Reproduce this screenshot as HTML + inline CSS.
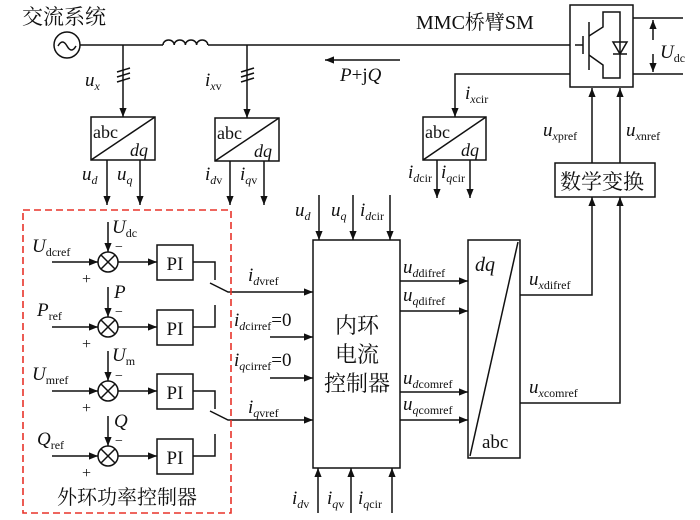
<!DOCTYPE html>
<html><head><meta charset="utf-8"><style>
body{margin:0;background:#fff}
svg{display:block}
text{font-family:"Liberation Serif","Noto Serif CJK SC",serif;fill:#111}
.i{font-style:italic}
.c{font-family:"Liberation Serif","Noto Serif CJK SC","Noto Sans CJK SC",serif}
</style></head><body>
<svg width="700" height="520" viewBox="0 0 700 520" xmlns="http://www.w3.org/2000/svg">
<defs>
<marker id="a" viewBox="0 0 10 10" refX="10" refY="5" markerWidth="9" markerHeight="9" markerUnits="userSpaceOnUse" orient="auto"><path d="M0,1 L10,5 L0,9 z" fill="#111"/></marker>
</defs>
<g stroke="#111" stroke-width="1.5" fill="none">
<!-- AC source -->
<circle cx="67" cy="45" r="13"/>
<path d="M58,46 q4.5,-8 9,0 q4.5,8 9,0"/>
<line x1="80" y1="45" x2="163" y2="45"/>
<path d="M163,45 a5.6,5 0 0 1 11.2,0 a5.6,5 0 0 1 11.2,0 a5.6,5 0 0 1 11.2,0 a5.6,5 0 0 1 11.2,0"/>
<line x1="208" y1="45" x2="570" y2="45"/>
<!-- taps -->
<line x1="123" y1="45" x2="123" y2="117" marker-end="url(#a)"/>
<line x1="117" y1="72" x2="130" y2="68"/><line x1="117" y1="77" x2="130" y2="73"/><line x1="117" y1="82" x2="130" y2="78"/>
<line x1="247" y1="45" x2="247" y2="118" marker-end="url(#a)"/>
<line x1="241" y1="72" x2="254" y2="68"/><line x1="241" y1="77" x2="254" y2="73"/><line x1="241" y1="82" x2="254" y2="78"/>
<!-- abc/dq boxes -->
<rect x="91" y="117" width="64" height="43"/><line x1="91" y1="160" x2="155" y2="117"/>
<rect x="215" y="118" width="64" height="43"/><line x1="215" y1="161" x2="279" y2="118"/>
<rect x="423" y="117" width="63" height="43"/><line x1="423" y1="160" x2="486" y2="117"/>
<line x1="107" y1="160" x2="107" y2="205" marker-end="url(#a)"/>
<line x1="140" y1="160" x2="140" y2="205" marker-end="url(#a)"/>
<line x1="230" y1="161" x2="230" y2="205" marker-end="url(#a)"/>
<line x1="264" y1="161" x2="264" y2="205" marker-end="url(#a)"/>
<line x1="437" y1="160" x2="437" y2="198" marker-end="url(#a)"/>
<line x1="470" y1="160" x2="470" y2="198" marker-end="url(#a)"/>
<!-- PQ arrow -->
<line x1="400" y1="60" x2="325" y2="60" marker-end="url(#a)"/>
<!-- lower line to box3 -->
<polyline points="570,74 455,74 455,117" marker-end="url(#a)"/>
<!-- SM -->
<rect x="570" y="5" width="63" height="82"/>
<line x1="575" y1="45" x2="583" y2="45"/>
<line x1="583" y1="36" x2="583" y2="54"/>
<line x1="589" y1="22" x2="589" y2="70"/>
<polyline points="589,36 603,27 603,12 620,12 620,78 603,78 603,65 589,55"/>
<path d="M613,42 L627,42 L620,54 z"/><line x1="613" y1="54" x2="627" y2="54"/>
<line x1="633" y1="18" x2="683" y2="18"/><line x1="633" y1="74" x2="683" y2="74"/>
<line x1="653" y1="40" x2="653" y2="20" marker-end="url(#a)"/>
<line x1="653" y1="54" x2="653" y2="72" marker-end="url(#a)"/>
<!-- math box -->
<rect x="555" y="163" width="100" height="34"/>
<line x1="592" y1="163" x2="592" y2="88" marker-end="url(#a)"/>
<line x1="620" y1="163" x2="620" y2="88" marker-end="url(#a)"/>
<!-- inner controller -->
<rect x="313" y="240" width="87" height="228"/>
<line x1="319" y1="195" x2="319" y2="240" marker-end="url(#a)"/>
<line x1="353" y1="195" x2="353" y2="240" marker-end="url(#a)"/>
<line x1="390" y1="195" x2="390" y2="240" marker-end="url(#a)"/>
<line x1="318" y1="513" x2="318" y2="468" marker-end="url(#a)"/>
<line x1="351" y1="513" x2="351" y2="468" marker-end="url(#a)"/>
<line x1="392" y1="513" x2="392" y2="468" marker-end="url(#a)"/>
<!-- dq/abc -->
<rect x="468" y="240" width="52" height="218"/><line x1="470" y1="456" x2="518" y2="242"/>
<line x1="400" y1="281" x2="468" y2="281" marker-end="url(#a)"/>
<line x1="400" y1="311" x2="468" y2="311" marker-end="url(#a)"/>
<line x1="400" y1="392" x2="468" y2="392" marker-end="url(#a)"/>
<line x1="400" y1="420" x2="468" y2="420" marker-end="url(#a)"/>
<polyline points="520,295 592,295 592,197" marker-end="url(#a)"/>
<polyline points="520,403 620,403 620,197" marker-end="url(#a)"/>
<!-- inputs -->
<line x1="270" y1="337" x2="313" y2="337" marker-end="url(#a)"/>
<line x1="270" y1="378" x2="313" y2="378" marker-end="url(#a)"/>
<polyline points="210,283 228,292 313,292" marker-end="url(#a)"/>
<polyline points="210,411 228,420 313,420" marker-end="url(#a)"/>
<!-- outer rows -->
<g>
<line x1="52" y1="262" x2="98" y2="262" marker-end="url(#a)"/>
<circle cx="108" cy="262" r="10"/><line x1="101" y1="255" x2="115" y2="269"/><line x1="115" y1="255" x2="101" y2="269"/>
<line x1="108" y1="222" x2="108" y2="252" marker-end="url(#a)"/>
<line x1="118" y1="262" x2="157" y2="262" marker-end="url(#a)"/>
<rect x="157" y="245" width="36" height="35"/>
<polyline points="193,262 215,262 215,280"/>
</g>
<g>
<line x1="52" y1="327" x2="98" y2="327" marker-end="url(#a)"/>
<circle cx="108" cy="327" r="10"/><line x1="101" y1="320" x2="115" y2="334"/><line x1="115" y1="320" x2="101" y2="334"/>
<line x1="108" y1="287" x2="108" y2="317" marker-end="url(#a)"/>
<line x1="118" y1="327" x2="157" y2="327" marker-end="url(#a)"/>
<rect x="157" y="310" width="36" height="35"/>
<polyline points="193,327 215,327 215,305"/>
</g>
<g>
<line x1="52" y1="391" x2="98" y2="391" marker-end="url(#a)"/>
<circle cx="108" cy="391" r="10"/><line x1="101" y1="384" x2="115" y2="398"/><line x1="115" y1="384" x2="101" y2="398"/>
<line x1="108" y1="351" x2="108" y2="381" marker-end="url(#a)"/>
<line x1="118" y1="391" x2="157" y2="391" marker-end="url(#a)"/>
<rect x="157" y="374" width="36" height="35"/>
<polyline points="193,391 215,391 215,409"/>
</g>
<g>
<line x1="52" y1="456" x2="98" y2="456" marker-end="url(#a)"/>
<circle cx="108" cy="456" r="10"/><line x1="101" y1="449" x2="115" y2="463"/><line x1="115" y1="449" x2="101" y2="463"/>
<line x1="108" y1="416" x2="108" y2="446" marker-end="url(#a)"/>
<line x1="118" y1="456" x2="157" y2="456" marker-end="url(#a)"/>
<rect x="157" y="439" width="36" height="35"/>
<polyline points="193,456 215,456 215,434"/>
</g>
</g>
<rect x="23" y="210" width="208" height="303" fill="none" stroke="#e8332a" stroke-width="1.6" stroke-dasharray="7,4"/>

<g font-size="19">
<text x="22" y="24" class="c" font-size="21">交流系统</text>
<text x="416" y="29" font-size="20">MMC<tspan class="c">桥臂</tspan>SM</text>
<text x="85" y="86" class="i">u<tspan font-size="12" dy="4">x</tspan></text>
<text x="205" y="86" class="i">i<tspan font-size="12" dy="4">x</tspan><tspan font-size="12" font-style="normal">v</tspan></text>
<text x="340" y="81" class="i">P<tspan font-style="normal">+j</tspan>Q</text>
<text x="465" y="99" class="i">i<tspan font-size="12" dy="4">x</tspan><tspan font-size="12" font-style="normal">cir</tspan></text>
<text x="660" y="58" class="i">U<tspan font-size="12" dy="4" font-style="normal">dc</tspan></text>
<text x="93" y="138" font-size="18">abc</text><text x="130" y="156" class="i" font-size="18">dq</text>
<text x="217" y="139" font-size="18">abc</text><text x="254" y="157" class="i" font-size="18">dq</text>
<text x="425" y="138" font-size="18">abc</text><text x="461" y="156" class="i" font-size="18">dq</text>
<text x="82" y="180" class="i">u<tspan font-size="12" dy="4">d</tspan></text>
<text x="117" y="180" class="i">u<tspan font-size="12" dy="4">q</tspan></text>
<text x="205" y="180" class="i">i<tspan font-size="12" dy="4">d</tspan><tspan font-size="12" font-style="normal">v</tspan></text>
<text x="240" y="180" class="i">i<tspan font-size="12" dy="4">q</tspan><tspan font-size="12" font-style="normal">v</tspan></text>
<text x="408" y="178" class="i">i<tspan font-size="12" dy="4">d</tspan><tspan font-size="12" font-style="normal">cir</tspan></text>
<text x="441" y="178" class="i">i<tspan font-size="12" dy="4">q</tspan><tspan font-size="12" font-style="normal">cir</tspan></text>
<text x="543" y="136" class="i">u<tspan font-size="12" dy="4">x</tspan><tspan font-size="12" font-style="normal">pref</tspan></text>
<text x="626" y="136" class="i">u<tspan font-size="12" dy="4">x</tspan><tspan font-size="12" font-style="normal">nref</tspan></text>
<text x="560" y="189" class="c" font-size="21">数学变换</text>
<text x="295" y="216" class="i">u<tspan font-size="12" dy="4">d</tspan></text>
<text x="331" y="216" class="i">u<tspan font-size="12" dy="4">q</tspan></text>
<text x="360" y="216" class="i">i<tspan font-size="12" dy="4">d</tspan><tspan font-size="12" font-style="normal">cir</tspan></text>
<text x="292" y="504" class="i">i<tspan font-size="12" dy="4">d</tspan><tspan font-size="12" font-style="normal">v</tspan></text>
<text x="327" y="504" class="i">i<tspan font-size="12" dy="4">q</tspan><tspan font-size="12" font-style="normal">v</tspan></text>
<text x="358" y="504" class="i">i<tspan font-size="12" dy="4">q</tspan><tspan font-size="12" font-style="normal">cir</tspan></text>
<text x="357" y="333" class="c" font-size="22" text-anchor="middle">内环</text>
<text x="357" y="362" class="c" font-size="22" text-anchor="middle">电流</text>
<text x="357" y="391" class="c" font-size="22" text-anchor="middle">控制器</text>
<text x="475" y="271" class="i" font-size="20">dq</text>
<text x="482" y="448" font-size="19">abc</text>
<text x="403" y="273" class="i">u<tspan font-size="12" dy="4">d</tspan><tspan font-size="12" font-style="normal">difref</tspan></text>
<text x="403" y="301" class="i">u<tspan font-size="12" dy="4">q</tspan><tspan font-size="12" font-style="normal">difref</tspan></text>
<text x="403" y="384" class="i">u<tspan font-size="12" dy="4">d</tspan><tspan font-size="12" font-style="normal">comref</tspan></text>
<text x="403" y="410" class="i">u<tspan font-size="12" dy="4">q</tspan><tspan font-size="12" font-style="normal">comref</tspan></text>
<text x="529" y="285" class="i">u<tspan font-size="12" dy="4">x</tspan><tspan font-size="12" font-style="normal">difref</tspan></text>
<text x="529" y="393" class="i">u<tspan font-size="12" dy="4">x</tspan><tspan font-size="12" font-style="normal">comref</tspan></text>
<text x="248" y="281" class="i">i<tspan font-size="12" dy="4">d</tspan><tspan font-size="12" font-style="normal">vref</tspan></text>
<text x="248" y="413" class="i">i<tspan font-size="12" dy="4">q</tspan><tspan font-size="12" font-style="normal">vref</tspan></text>
<text x="234" y="326" class="i">i<tspan font-size="12" dy="4">d</tspan><tspan font-size="12" font-style="normal">cirref</tspan><tspan dy="-4" font-style="normal">=0</tspan></text>
<text x="234" y="366" class="i">i<tspan font-size="12" dy="4">q</tspan><tspan font-size="12" font-style="normal">cirref</tspan><tspan dy="-4" font-style="normal">=0</tspan></text>
<text x="32" y="252" class="i">U<tspan font-size="12" dy="4" font-style="normal">dcref</tspan></text>
<text x="37" y="316" class="i">P<tspan font-size="12" dy="4" font-style="normal">ref</tspan></text>
<text x="32" y="380" class="i">U<tspan font-size="12" dy="4" font-style="normal">mref</tspan></text>
<text x="37" y="445" class="i">Q<tspan font-size="12" dy="4" font-style="normal">ref</tspan></text>
<text x="112" y="233" class="i">U<tspan font-size="12" dy="4" font-style="normal">dc</tspan></text>
<text x="114" y="298" class="i">P</text>
<text x="112" y="361" class="i">U<tspan font-size="12" dy="4" font-style="normal">m</tspan></text>
<text x="114" y="427" class="i">Q</text>
<text x="115" y="251" font-size="14">−</text><text x="115" y="316" font-size="14">−</text><text x="115" y="380" font-size="14">−</text><text x="115" y="445" font-size="14">−</text>
<text x="82" y="284" font-size="16">+</text><text x="82" y="349" font-size="16">+</text><text x="82" y="413" font-size="16">+</text><text x="82" y="478" font-size="16">+</text>
<text x="175" y="270" text-anchor="middle">PI</text>
<text x="175" y="335" text-anchor="middle">PI</text>
<text x="175" y="399" text-anchor="middle">PI</text>
<text x="175" y="464" text-anchor="middle">PI</text>
<text x="127" y="504" class="c" font-size="20" text-anchor="middle">外环功率控制器</text>
</g>
</svg>
</body></html>
